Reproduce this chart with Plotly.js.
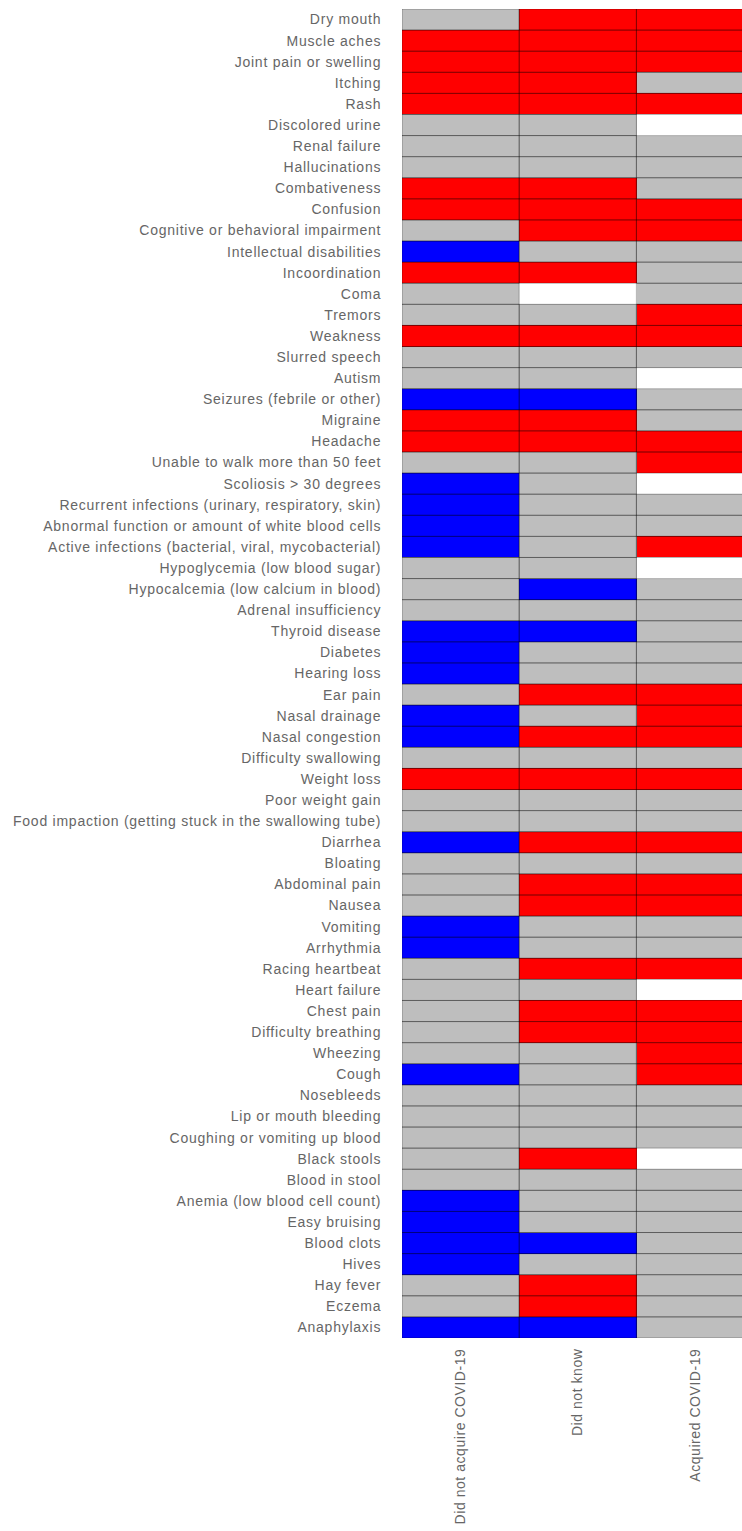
<!DOCTYPE html>
<html>
<head>
<meta charset="utf-8">
<script src="https://cdn.plot.ly/plotly-3.0.1.min.js"></script>
<style>
  html, body { margin: 0; padding: 0; background: #ffffff; }
  #chart { width: 742px; height: 1531px; }
  #chart .ytick text { letter-spacing: 0.75px; }
  #chart .xtick text { letter-spacing: 0.55px; }
</style>
</head>
<body>
<div id="chart"></div>
<script>
// Symptom rows, top to bottom
const symptoms = [
  "Dry mouth", "Muscle aches", "Joint pain or swelling", "Itching", "Rash",
  "Discolored urine", "Renal failure", "Hallucinations", "Combativeness", "Confusion",
  "Cognitive or behavioral impairment", "Intellectual disabilities", "Incoordination", "Coma", "Tremors",
  "Weakness", "Slurred speech", "Autism", "Seizures (febrile or other)", "Migraine",
  "Headache", "Unable to walk more than 50 feet", "Scoliosis > 30 degrees",
  "Recurrent infections (urinary, respiratory, skin)", "Abnormal function or amount of white blood cells",
  "Active infections (bacterial, viral, mycobacterial)", "Hypoglycemia (low blood sugar)",
  "Hypocalcemia (low calcium in blood)", "Adrenal insufficiency", "Thyroid disease",
  "Diabetes", "Hearing loss", "Ear pain", "Nasal drainage", "Nasal congestion",
  "Difficulty swallowing", "Weight loss", "Poor weight gain",
  "Food impaction (getting stuck in the swallowing tube)", "Diarrhea",
  "Bloating", "Abdominal pain", "Nausea", "Vomiting", "Arrhythmia",
  "Racing heartbeat", "Heart failure", "Chest pain", "Difficulty breathing", "Wheezing",
  "Cough", "Nosebleeds", "Lip or mouth bleeding", "Coughing or vomiting up blood", "Black stools",
  "Blood in stool", "Anemia (low blood cell count)", "Easy bruising", "Blood clots", "Hives",
  "Hay fever", "Eczema", "Anaphylaxis"
];

// Column groups
const groups = ["Did not acquire COVID-19", "Did not know", "Acquired COVID-19"];

// Status per symptom: 1 = red, 0 = grey, -1 = blue, null = no data
const notAcquired = [
   0,  1,  1,  1,  1,   0,  0,  0,  1,  1,
   0, -1,  1,  0,  0,   1,  0,  0, -1,  1,
   1,  0, -1, -1, -1,  -1,  0,  0,  0, -1,
  -1, -1,  0, -1, -1,   0,  1,  0,  0, -1,
   0,  0,  0, -1, -1,   0,  0,  0,  0,  0,
  -1,  0,  0,  0,  0,   0, -1, -1, -1, -1,
   0,  0, -1
];
const didNotKnow = [
   1,  1,  1,  1,  1,   0,  0,  0,  1,  1,
   1,  0,  1, null, 0,  1,  0,  0, -1,  1,
   1,  0,  0,  0,  0,   0,  0, -1,  0, -1,
   0,  0,  1,  0,  1,   0,  1,  0,  0,  1,
   0,  1,  1,  0,  0,   1,  0,  1,  1,  0,
   0,  0,  0,  0,  1,   0,  0,  0, -1,  0,
   1,  1, -1
];
const acquired = [
   1,  1,  1,  0,  1,  null, 0,  0,  0,  1,
   1,  0,  0,  0,  1,   1,  0, null, 0,  0,
   1,  1, null, 0,  0,   1, null, 0,  0,  0,
   0,  0,  1,  1,  1,   0,  1,  0,  0,  1,
   0,  1,  1,  0,  0,   1, null, 1,  1,  1,
   1,  0,  0,  0, null, 0,  0,  0,  0,  0,
   0,  0,  0
];

const columns = [notAcquired, didNotKnow, acquired];
const rowIdx = symptoms.map((_, i) => i);
const colIdx = groups.map((_, j) => j);
const z = symptoms.map((_, i) => columns.map(col => col[i]));

const colorscale = [
  [0, "#0000FF"], [0.3333, "#0000FF"],
  [0.3333, "#BEBEBE"], [0.6667, "#BEBEBE"],
  [0.6667, "#FF0000"], [1, "#FF0000"]
];

// Thin outline around every cell that has data
const outlines = [];
symptoms.forEach((_, i) => {
  columns.forEach((col, j) => {
    if (col[i] === null) return;
    outlines.push({
      type: "rect", xref: "x", yref: "y", layer: "above",
      x0: j - 0.5, x1: j + 0.5, y0: i - 0.5, y1: i + 0.5,
      line: { color: "rgba(0,0,0,0.3)", width: 1 },
      fillcolor: "rgba(0,0,0,0)"
    });
  });
});

const trace = {
  type: "heatmap",
  x: colIdx,
  y: rowIdx,
  z: z,
  zmin: -1,
  zmax: 1,
  colorscale: colorscale,
  showscale: false,
  hoverongaps: false
};

const labelFont = { family: "Liberation Sans, Arial, sans-serif", size: 14, color: "#666666" };

const layout = {
  width: 742,
  height: 1531,
  margin: { l: 402, r: 0, t: 9, b: 193 },
  paper_bgcolor: "#ffffff",
  plot_bgcolor: "#ffffff",
  showlegend: false,
  xaxis: {
    range: [-0.5, 2.401],
    tickmode: "array",
    tickvals: colIdx,
    ticktext: groups,
    tickangle: -90,
    ticks: "outside",
    ticklen: 4,
    tickcolor: "rgba(0,0,0,0)",
    showgrid: false,
    zeroline: false,
    showline: false,
    tickfont: labelFont,
    fixedrange: true
  },
  yaxis: {
    range: [symptoms.length - 0.5, -0.5],
    tickmode: "array",
    tickvals: rowIdx,
    ticktext: symptoms,
    ticks: "outside",
    ticklen: 17,
    tickcolor: "rgba(0,0,0,0)",
    showgrid: false,
    zeroline: false,
    showline: false,
    tickfont: labelFont,
    fixedrange: true
  },
  shapes: outlines
};

Plotly.newPlot("chart", [trace], layout, { displayModeBar: false, staticPlot: true });
</script>
</body>
</html>
